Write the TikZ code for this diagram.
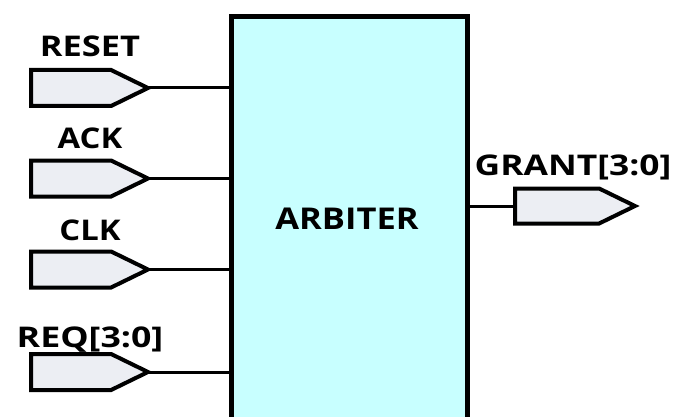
\documentclass[tikz,border=0pt]{standalone}
\usepackage{fontspec}
\setmainfont{Open Sans}[FakeStretch=1.15]
\usetikzlibrary{shapes.symbols}
\definecolor{boxfill}{HTML}{C8FFFF}
\definecolor{portfill}{HTML}{ECEEF3}
\begin{document}
\begin{tikzpicture}[x=1pt,y=-1pt,
  port/.style={signal, signal to=east, signal pointer angle=52, draw, line width=4pt,
    fill=portfill, minimum width=117pt, minimum height=36pt, inner sep=0pt, outer sep=0pt,
    anchor=west},
  lbl/.style={font=\bfseries\fontsize{28.5}{30}\selectfont, inner sep=0pt, anchor=base},
  wire/.style={line width=3pt}]
\useasboundingbox (0,0) rectangle (685,417);
\clip (0,0) rectangle (685,417);
\node[draw, line width=5pt, fill=boxfill, minimum width=236pt, minimum height=430pt,
  anchor=north west, inner sep=0pt, outer sep=0pt] (arb) at (231,17) {};
\node[lbl, font=\bfseries\fontsize{30}{32}\selectfont] (arbtxt) at (347,229) {ARBITER};
% input ports
\node[port] (reset) at (31,88) {};
\node[port] (ack) at (31,178.5) {};
\node[port] (clk) at (31,269.5) {};
\node[port] (req) at (31,372) {};
\node[lbl] (resetl) at (90,57) {\scalebox{1.05}[1]{RESET}};
\node[lbl] (ackl) at (90,149) {ACK};
\node[lbl] (clkl) at (90,240) {CLK};
\node[lbl] (reql) at (90,347) {\scalebox{1.09}[1]{REQ[3:0]}};
% output port
\node[port, minimum width=120pt, minimum height=35pt] (grant) at (515,206) {};
\node[lbl] (grantl) at (573,175) {\scalebox{1.08}[1]{GRANT[3:0]}};
% wires
\draw[wire] (reset.east) -- (reset.east -| arb.west);
\draw[wire] (ack.east) -- (ack.east -| arb.west);
\draw[wire] (clk.east) -- (clk.east -| arb.west);
\draw[wire] (req.east) -- (req.east -| arb.west);
\draw[wire] (grant.west -| arb.east) -- (grant.west);
\end{tikzpicture}
\end{document}
